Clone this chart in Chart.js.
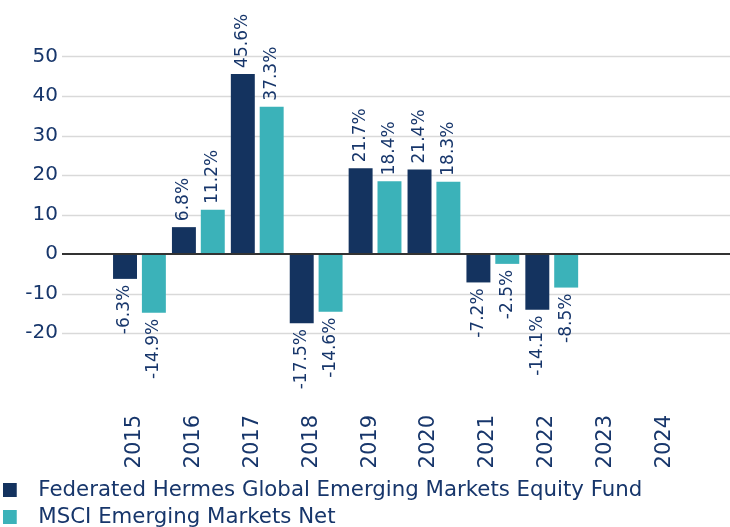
<!DOCTYPE html>
<html>
<head>
<meta charset="utf-8">
<script src="https://cdn.jsdelivr.net/npm/chart.js@4"></script>
<style>
  html, body { margin: 0; padding: 0; background: #fff; overflow: hidden; }
  #wrap { width: 730px; height: 538px; }
</style>
</head>
<body>
<div id="wrap"><canvas id="barChart"></canvas></div>
<script>
const years = ['2015', '2016', '2017', '2018', '2019', '2020', '2021', '2022', '2023', '2024'];
const fundName = 'Federated Hermes Global Emerging Markets Equity Fund';
const indexName = 'MSCI Emerging Markets Net';
const fundReturns = [-6.3, 6.8, 45.6, -17.5, 21.7, 21.4, -7.2, -14.1, null, null];
const indexReturns = [-14.9, 11.2, 37.3, -14.6, 18.4, 18.3, -2.5, -8.5, null, null];
const gridValues = [50, 40, 30, 20, 10, 0, -10, -20];

const navy = '#14335f';
const teal = '#3bb2b9';
const textColor = '#17366b';
const fontName = '"DejaVu Sans", Verdana, sans-serif';

// legend marker: square on the left of a wider transparent image
function legendSquare(color) {
    const c = document.createElement('canvas');
    c.width = 28;
    c.height = 14;
    const g = c.getContext('2d');
    g.fillStyle = color;
    g.fillRect(0, 0, 14, 14);
    return c;
}

const gridPlugin = {
    id: 'fullGrid',
    beforeDatasetsDraw(chart) {
        const ctx = chart.ctx;
        const y = chart.scales.y;
        ctx.save();
        ctx.strokeStyle = '#d9d9d9';
        ctx.lineWidth = 1.5;
        gridValues.forEach(v => {
            if (v === 0) return;
            const py = Math.round(y.getPixelForValue(v)) + 0.5;
            ctx.beginPath();
            ctx.moveTo(62, py);
            ctx.lineTo(chart.width, py);
            ctx.stroke();
        });
        ctx.restore();
    },
    afterDatasetsDraw(chart) {
        const ctx = chart.ctx;
        const py = chart.scales.y.getPixelForValue(0);
        ctx.save();
        ctx.strokeStyle = '#333333';
        ctx.lineWidth = 2;
        ctx.beginPath();
        ctx.moveTo(62, py);
        ctx.lineTo(chart.width, py);
        ctx.stroke();

        // value labels, rotated
        ctx.fillStyle = textColor;
        ctx.font = '17px ' + fontName;
        ctx.textBaseline = 'middle';
        chart.data.datasets.forEach((ds, i) => {
            const meta = chart.getDatasetMeta(i);
            meta.data.forEach((bar, j) => {
                const v = ds.data[j];
                if (v === null || v === undefined) return;
                const text = v.toFixed(1) + '%';
                ctx.save();
                if (v >= 0) {
                    ctx.translate(bar.x, bar.y - 6);
                    ctx.rotate(-Math.PI / 2);
                    ctx.textAlign = 'left';
                } else {
                    ctx.translate(bar.x, bar.y + 6);
                    ctx.rotate(-Math.PI / 2);
                    ctx.textAlign = 'right';
                }
                ctx.fillText(text, 0, 0);
                ctx.restore();
            });
        });
        ctx.restore();
    }
};

const ctx = document.getElementById('barChart').getContext('2d');
new Chart(ctx, {
    type: 'bar',
    data: {
        labels: years,
        datasets: [{
            label: fundName,
            data: fundReturns,
            backgroundColor: navy,
            pointStyle: legendSquare(navy),
            barPercentage: 0.83,
            categoryPercentage: 0.98
        }, {
            label: indexName,
            data: indexReturns,
            backgroundColor: teal,
            pointStyle: legendSquare(teal),
            barPercentage: 0.83,
            categoryPercentage: 0.98
        }]
    },
    options: {
        responsive: true,
        maintainAspectRatio: false,
        animation: false,
        layout: { padding: { top: 17, right: 31, left: 0, bottom: 0 } },
        plugins: {
            tooltip: { enabled: false },
            legend: {
                position: 'bottom',
                align: 'start',
                labels: {
                    usePointStyle: true,
                    pointStyleWidth: 22,
                    padding: 5.7,
                    color: textColor,
                    font: { family: fontName, size: 21.3 }
                }
            }
        },
        scales: {
            x: {
                grid: { display: false, drawTicks: false },
                border: { display: false },
                ticks: {
                    color: textColor,
                    font: { family: fontName, size: 21 },
                    maxRotation: 90,
                    minRotation: 90,
                    autoSkip: false,
                    labelOffset: -5,
                    padding: 3
                },
                afterFit(scale) { scale.height = 62; }
            },
            y: {
                min: -40,
                max: 60,
                grid: { display: false, drawTicks: true, tickLength: 48 },
                border: { display: false },
                ticks: {
                    stepSize: 10,
                    padding: 4,
                    color: textColor,
                    font: { family: fontName, size: 20 },
                    callback: v => (v > 50 || v < -20) ? '' : v
                },
                afterFit(scale) { scale.width = 110; }
            }
        }
    },
    plugins: [gridPlugin]
});
</script>
</body>
</html>
